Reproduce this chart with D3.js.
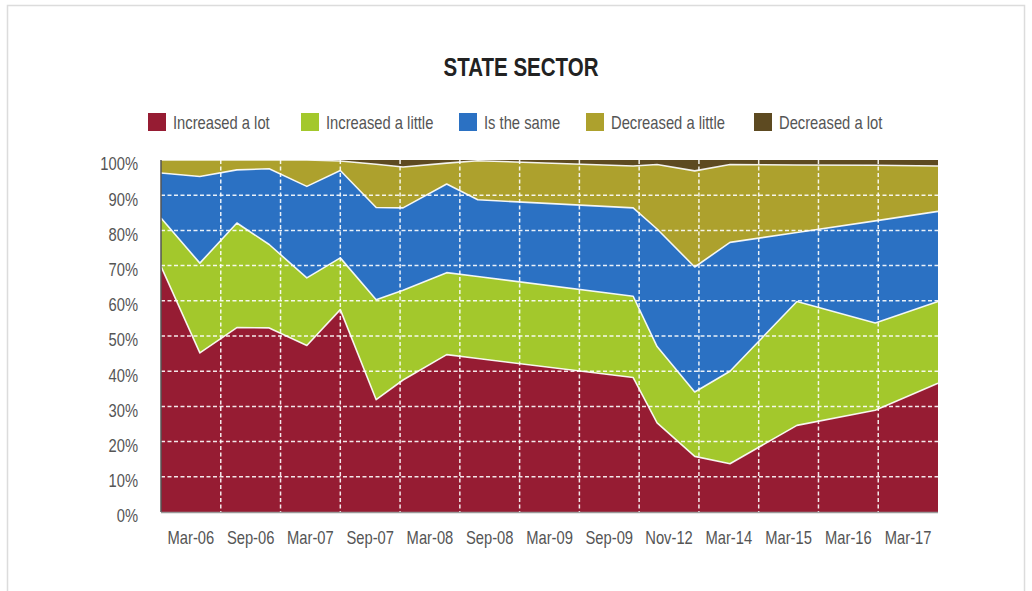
<!DOCTYPE html>
<html>
<head>
<meta charset="utf-8">
<script src="https://cdn.jsdelivr.net/npm/d3@7"></script>
<style>
  html, body { margin: 0; padding: 0; background: #fff; }
  svg { display: block; font-family: "Liberation Sans", Arial, sans-serif; }
</style>
</head>
<body>
<svg id="chart" width="1032" height="591"></svg>
<script>
// ---- Data ----
const title = "STATE SECTOR";
const periodLabels = ["Mar-06","Sep-06","Mar-07","Sep-07","Mar-08","Sep-08","Mar-09","Sep-09","Nov-12","Mar-14","Mar-15","Mar-16","Mar-17"];
// survey points, in period units along the category axis
const surveyPoints = [0, 0.65, 1.27, 1.81, 2.44, 3.0, 3.6, 4.05, 4.78, 5.3, 7.9, 8.3, 8.93, 9.52, 10.64, 11.95, 13.0];
const seriesNames = ["Increased a lot","Increased a little","Is the same","Decreased a little","Decreased a lot"];
const increasedALot    = [69.8, 45.2, 52.4, 52.3, 47.3, 57.5, 31.9, 37.5, 44.7, 43.6, 38.2, 25.3, 15.8, 13.7, 24.6, 28.9, 36.6];
const increasedALittle = [13.7, 25.5, 29.7, 23.7, 19.2, 14.7, 28.4, 25.5, 23.3, 23.3, 23.1, 21.7, 18.3, 26.3, 35.2, 24.8, 23.2];
const isTheSame        = [12.8, 24.6, 15.1, 21.5, 26.0, 24.8, 26.2, 23.4, 25.2, 21.8, 25.1, 33.4, 35.5, 36.6, 19.6, 29.0, 25.6];
const decreasedALittle = [ 3.7,  4.7,  2.8,  2.5,  7.5,  2.7, 12.3, 11.6,  5.9, 11.1, 11.9, 18.3, 27.3, 22.1, 19.2, 15.8, 12.9];
const decreasedALot    = [ 0.0,  0.0,  0.0,  0.0,  0.0,  0.3,  1.2,  2.0,  0.9,  0.2,  1.7,  1.3,  3.1,  1.3,  1.4,  1.5,  1.7];
const yTicks = [0,10,20,30,40,50,60,70,80,90,100];
const colors = ["#961c33","#a3c82c","#2b71c3","#ada12d","#5d4a21"];

// ---- Build table ----
const seriesArrays = [increasedALot, increasedALittle, isTheSame, decreasedALittle, decreasedALot];
const table = surveyPoints.map((p, i) => {
  const row = { pos: p };
  seriesNames.forEach((k, j) => row[k] = seriesArrays[j][i]);
  return row;
});

const NARROW = 0.82; // emulate a narrow typeface
const svg = d3.select("#chart");
const W = 1032, H = 591;
const margin = { left: 161, right: 94, top: 160, bottom: 79 };
const plotW = W - margin.left - margin.right;
const plotH = H - margin.top - margin.bottom;

function narrowText(sel, tx, ty) {
  return sel.attr("transform", `translate(${tx},${ty}) scale(${NARROW},1)`);
}

// frame
svg.append("rect").attr("x", 7.5).attr("y", 5.5).attr("width", 1017).attr("height", 620)
  .attr("fill", "#fff").attr("stroke", "#dcdcdc").attr("stroke-width", 1.5);

const x = d3.scaleLinear().domain([0, periodLabels.length]).range([margin.left, margin.left + plotW]);
const y = d3.scaleLinear().domain([0, 100]).range([margin.top + plotH, margin.top]);

// title
narrowText(svg.append("text"), 521, 76).attr("text-anchor", "middle")
  .attr("font-size", 25).attr("font-weight", "bold").attr("fill", "#222").text(title);

// legend
const legendX = [148, 301, 459, 586, 754];
const lg = svg.append("g").attr("class", "legend");
seriesNames.forEach((name, i) => {
  const g = lg.append("g").attr("transform", `translate(${legendX[i]},113)`);
  g.append("rect").attr("width", 18).attr("height", 18).attr("fill", colors[i]);
  narrowText(g.append("text"), 25, 15.5).attr("font-size", 18).attr("fill", "#555").text(name);
});

// stacked areas
const stack = d3.stack().keys(seriesNames);
const stacked = stack(table);
const area = d3.area()
  .x(d => x(d.data.pos))
  .y0(d => y(d[0]))
  .y1(d => y(d[1]));
const line = d3.line().x(d => x(d.data.pos)).y(d => y(d[1]));

svg.append("g").selectAll("path").data(stacked).join("path")
  .attr("d", area).attr("fill", (d, i) => colors[i]);

// boundaries
svg.append("g").selectAll("path").data(stacked.slice(0, 4)).join("path")
  .attr("d", line).attr("fill", "none").attr("stroke", "#fff").attr("stroke-width", 1.6)
  .attr("stroke-linejoin", "round").attr("opacity", 0.9);

// grid (dashed white)
const grid = svg.append("g");
grid.selectAll("line.h").data(yTicks.filter(t => t > 0 && t < 100)).join("line")
  .attr("x1", x(0)).attr("x2", x(periodLabels.length))
  .attr("y1", d => y(d)).attr("y2", d => y(d))
  .attr("stroke", "#fff").attr("stroke-width", 1.5).attr("stroke-dasharray", "4,2.5").attr("opacity", 0.9);
grid.selectAll("line.v").data(d3.range(1, periodLabels.length)).join("line")
  .attr("x1", d => x(d)).attr("x2", d => x(d))
  .attr("y1", y(100)).attr("y2", y(0))
  .attr("stroke", "#fff").attr("stroke-width", 1.5).attr("stroke-dasharray", "4,2.5").attr("opacity", 0.9);

// axes lines
svg.append("line").attr("x1", x(0)).attr("x2", x(0)).attr("y1", y(100)).attr("y2", y(0))
  .attr("stroke", "#555").attr("stroke-width", 1.5);
svg.append("line").attr("x1", x(0)).attr("x2", x(periodLabels.length)).attr("y1", y(0) + 0.5).attr("y2", y(0) + 0.5)
  .attr("stroke", "#999").attr("stroke-width", 1.5);

// y labels
const yAxis = d3.axisLeft(y).tickValues(yTicks).tickFormat(d => d + "%").tickSize(0).tickPadding(0);
const ya = svg.append("g").attr("transform", `translate(${margin.left},0)`).call(yAxis);
ya.select(".domain").remove();
ya.selectAll("text").attr("font-size", 18).attr("fill", "#555").attr("font-family", null)
  .attr("x", 0).attr("dy", "0.55em").attr("transform", `translate(-23,0) scale(${NARROW},1)`);

// x labels
const xb = d3.scaleBand().domain(periodLabels).range([x(0), x(periodLabels.length)]);
const xAxis = d3.axisBottom(xb).tickSize(0).tickPadding(19);
const xa = svg.append("g").attr("transform", `translate(0,${y(0)})`).call(xAxis);
xa.select(".domain").remove();
xa.selectAll("text").attr("font-size", 18).attr("fill", "#555").attr("font-family", null)
  .attr("transform", `scale(${NARROW},1)`);
</script>
</body>
</html>
